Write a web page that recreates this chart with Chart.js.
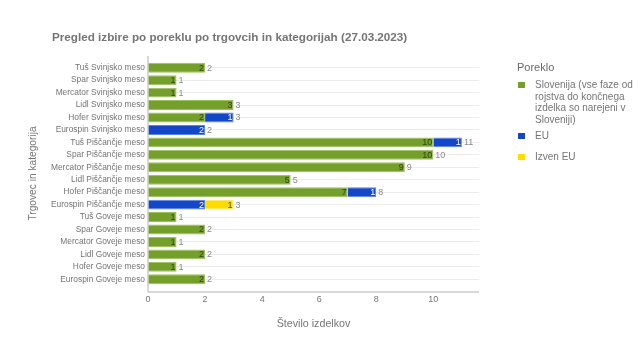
<!DOCTYPE html>
<html><head><meta charset="utf-8">
<script src="https://cdn.jsdelivr.net/npm/chart.js@4/dist/chart.umd.min.js"></script>
<style>
html,body{margin:0;padding:0;background:#fff;}
#wrap{position:relative;width:640px;height:356px;font-family:"Liberation Sans",Arial,sans-serif;}
#title{position:absolute;left:52px;top:30px;font-size:11.7px;font-weight:bold;color:#757575;white-space:nowrap;line-height:14px;}
#legend{position:absolute;left:517px;top:60.5px;color:#757575;}
#legend .head{font-size:11px;line-height:13px;margin-bottom:5.5px;color:#6a6a6a;}
#legend .item{position:relative;padding-left:18px;font-size:10px;line-height:11.5px;width:100px;}
#legend .item0{margin-bottom:5px;}
#legend .item1{margin-bottom:9.5px;}
#legend .sw{position:absolute;left:1px;top:2.5px;width:6.5px;height:6.5px;}
canvas{position:absolute;left:0;top:0;}
</style></head>
<body><div id="wrap">
<canvas id="c" width="640" height="356"></canvas>
<div id="title">Pregled izbire po poreklu po trgovcih in kategorijah (27.03.2023)</div>
<div id="legend"></div>
</div>
<script>
const categories = ["Tuš Svinjsko meso","Spar Svinjsko meso","Mercator Svinjsko meso","Lidl Svinjsko meso","Hofer Svinjsko meso","Eurospin Svinjsko meso","Tuš Piščančje meso","Spar Piščančje meso","Mercator Piščančje meso","Lidl Piščančje meso","Hofer Piščančje meso","Eurospin Piščančje meso","Tuš Goveje meso","Spar Goveje meso","Mercator Goveje meso","Lidl Goveje meso","Hofer Goveje meso","Eurospin Goveje meso"];
const slovenija = [2,1,1,3,2,null,10,10,9,5,7,null,1,2,1,2,1,2];
const eu        = [null,null,null,null,1,2,1,null,null,null,1,2,null,null,null,null,null,null];
const izvenEu   = [null,null,null,null,null,null,null,null,null,null,null,1,null,null,null,null,null,null];
const seriesNames = ["Slovenija (vse faze od rojstva do končnega izdelka so narejeni v Sloveniji)","EU","Izven EU"];
const xTicks = [0,2,4,6,8,10];
const legendTitle = "Poreklo";
const xTitle = "Število izdelkov";
const yTitle = "Trgovec in kategorija";

const colors = ["#749f2b","#1347c8","#ffdc00"];
const borders = ["#9cc15a","#5a84e6","#ffe866"];
const innerLabelColors = ["#34431a","#ffffff","#5b5300"];

const F = "'Liberation Sans', Arial, sans-serif";

const overlay = {
  id:'overlay',
  afterDatasetsDraw(chart){
    const {ctx, chartArea:a, scales:{x,y}} = chart;
    ctx.save();
    ctx.strokeStyle='#cccccc'; ctx.lineWidth=1.5;
    const x0 = x.getPixelForValue(0);
    ctx.beginPath();
    ctx.moveTo(x0, a.top-5.5); ctx.lineTo(x0, a.bottom+6.5);
    ctx.moveTo(x0, a.bottom+6.5); ctx.lineTo(a.right, a.bottom+6.5);
    ctx.stroke();
    ctx.font = "9px " + F; ctx.textBaseline='middle';
    categories.forEach((c,i)=>{
      let total=0;
      chart.data.datasets.forEach((ds,di)=>{
        const v=ds.data[i]; if(!v) return;
        total+=v;
        const el=chart.getDatasetMeta(di).data[i];
        ctx.fillStyle=innerLabelColors[di]; ctx.textAlign='right';
        ctx.fillText(String(v), el.x-1, el.y+0.5);
      });
      ctx.fillStyle='#8a8a8a'; ctx.textAlign='left';
      ctx.fillText(String(total), x.getPixelForValue(total)+2, y.getPixelForValue(i)+0.5);
    });
    ctx.restore();
  }
};

new Chart(document.getElementById('c'), {
  type:'bar',
  data:{
    labels:categories,
    datasets:[
      {label:seriesNames[0], data:slovenija, backgroundColor:colors[0], borderColor:borders[0], borderWidth:1},
      {label:seriesNames[1], data:eu, backgroundColor:colors[1], borderColor:borders[1], borderWidth:1},
      {label:seriesNames[2], data:izvenEu, backgroundColor:colors[2], borderColor:borders[2], borderWidth:1}
    ]
  },
  options:{
    indexAxis:'y', responsive:false, animation:false,
    layout:{padding:{left:0,top:61.5,right:161,bottom:0}},
    plugins:{legend:{display:false}, title:{display:false}, tooltip:{enabled:false}},
    datasets:{bar:{barPercentage:0.8, categoryPercentage:1}},
    scales:{
      x:{stacked:true, min:0, max:11.6,
        afterBuildTicks(s){ s.ticks = xTicks.map(v=>({value:v})); },
        afterFit(s){ s.height = 356-285.5; },
        grid:{display:false, drawTicks:false}, border:{display:false},
        ticks:{padding:9, color:'#757575', font:{family:F,size:9}},
        title:{display:true, text:xTitle, color:'#757575', font:{family:F,size:10.7}, padding:{top:0,bottom:26}}
      },
      y:{stacked:true,
        afterFit(s){ s.width = 148; },
        grid:{color:'#ececec', drawTicks:false, offset:false}, border:{display:false},
        ticks:{padding:3, color:'#757575', font:{family:F,size:8.4}, autoSkip:false},
        title:{display:true, text:yTitle, color:'#757575', font:{family:F,size:10.2}, padding:{top:27.5,bottom:0}}
      }
    }
  },
  plugins:[overlay]
});

const lg=document.getElementById('legend');
let h='<div class="head">'+legendTitle+'</div>';
seriesNames.forEach((n,i)=>{ h+='<div class="item item'+i+'"><span class="sw" style="background:'+colors[i]+'"></span>'+n+'</div>'; });
lg.innerHTML=h;
</script>
</body></html>
